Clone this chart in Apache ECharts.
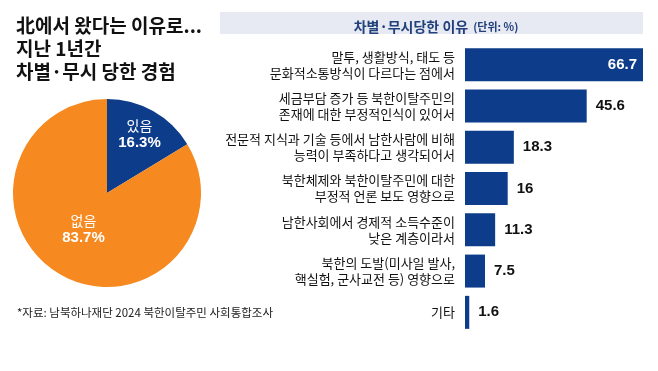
<!DOCTYPE html>
<html><head><meta charset="utf-8">
<script src="https://cdn.jsdelivr.net/npm/echarts@6/dist/echarts.min.js"></script>
<style>html,body{margin:0;padding:0;background:#fff}#c{width:658px;height:371px}</style>
</head><body><div id="c"></div>
<script>
const pieNames = ['있음', '없음'];
const pieValues = [16.3, 83.7];
const reasons = [
  '말투, 생활방식, 태도 등\n문화적소통방식이 다르다는 점에서',
  '세금부담 증가 등 북한이탈주민의\n존재에 대한 부정적인식이 있어서',
  '전문적 지식과 기술 등에서 남한사람에 비해\n능력이 부족하다고 생각되어서',
  '북한체제와 북한이탈주민에 대한\n부정적 언론 보도 영향으로',
  '남한사회에서 경제적 소득수준이\n낮은 계층이라서',
  '북한의 도발(미사일 발사,\n핵실험, 군사교전 등) 영향으로',
  '기타'
];
const reasonValues = [66.7, 45.6, 18.3, 16, 11.3, 7.5, 1.6];

const NAVY = '#0d3c8a', ORANGE = '#f6891f';
const FONT = '"Noto Sans CJK KR", sans-serif';
const maxV = Math.max(...reasonValues);
const pieOffsets = [[8, -15], [1, -7]];

const chart = echarts.init(document.getElementById('c'), null, {renderer: 'canvas'});
chart.setOption({
  animation: false,
  title: [
    {text: '北에서 왔다는 이유로...\n지난 1년간\n차별·무시 당한 경험', left: 11, top: 9,
     textStyle: {fontFamily: FONT, fontSize: 19, fontWeight: 'bold', color: '#111', lineHeight: 23}},
    {text: '{a|차별·무시당한 이유} {b|(단위: %)}', left: 431, top: 13, textAlign: 'center',
     textStyle: {rich: {a: {fontFamily: FONT, fontSize: 14, color: '#22407c'}, b: {fontFamily: FONT, fontSize: 11, color: '#22407c'}}}},
    {text: '*자료: 남북하나재단 2024 북한이탈주민 사회통합조사', left: 12, top: 302,
     textStyle: {fontFamily: FONT, fontSize: 11.5, fontWeight: 'normal', color: '#222'}}
  ],
  graphic: [{type: 'rect', left: 220, top: 12, shape: {width: 423, height: 22}, style: {fill: '#e7eaf2'}, z: -1}],
  grid: {left: 465, right: 15, top: 44, bottom: 38},
  xAxis: {type: 'value', min: 0, max: maxV, show: false},
  yAxis: {type: 'category', data: reasons, inverse: true,
    axisLine: {show: false}, axisTick: {show: false},
    axisLabel: {fontFamily: FONT, fontSize: 13, lineHeight: 16, color: '#111', margin: 10, align: 'right'}},
  series: [
    {type: 'pie', center: [107, 193], radius: 94, startAngle: 90, clockwise: true,
     data: pieNames.map((n, i) => ({name: n, value: pieValues[i],
       itemStyle: {color: i === 0 ? NAVY : ORANGE},
       label: {offset: pieOffsets[i]}})),
     label: {position: 'inside', formatter: p => '{n|' + p.name + '}\n{v|' + p.value + '%}',
       rich: {n: {fontFamily: FONT, fontSize: 14, color: '#fff', lineHeight: 17},
              v: {fontFamily: '"Liberation Sans", Arial, sans-serif', fontSize: 15, fontWeight: 'bold', color: '#fff', lineHeight: 17}}},
     labelLine: {show: false}, silent: true},
    {type: 'bar', barWidth: 33,
     data: reasonValues.map(v => v === maxV ? {value: v,
       label: {position: 'insideRight', color: '#fff', distance: 6}} : v),
     itemStyle: {color: NAVY},
     label: {show: true, position: 'right', distance: 9, color: '#111',
       fontFamily: '"Liberation Sans", Arial, sans-serif', fontWeight: 'bold', fontSize: 15}}
  ]
});
</script></body></html>
